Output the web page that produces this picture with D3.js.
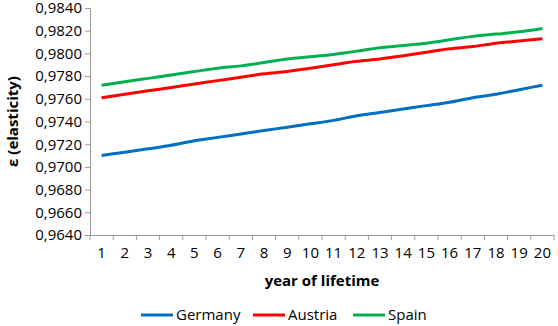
<!DOCTYPE html>
<html>
<head>
<meta charset="utf-8">
<script src="https://cdn.jsdelivr.net/npm/d3@7"></script>
<style>
  body { margin: 0; background: #fff; }
  text { font-family: "Open Sans", sans-serif; fill: #000; }
</style>
</head>
<body>
<div id="chart"></div>
<script>
const years = d3.range(1, 21);
const germany = [0.9710, 0.9713, 0.9716, 0.9719, 0.9723, 0.9726, 0.9729, 0.9732, 0.9735, 0.9738,
                 0.9741, 0.9745, 0.9748, 0.9751, 0.9754, 0.9757, 0.9761, 0.9764, 0.9768, 0.9772];
const austria = [0.9761, 0.9764, 0.9767, 0.9770, 0.9773, 0.9776, 0.9779, 0.9782, 0.9784, 0.9787,
                 0.9790, 0.9793, 0.9795, 0.9798, 0.9801, 0.9804, 0.9806, 0.9809, 0.9811, 0.9813];
const spain = [0.9772, 0.9775, 0.9778, 0.9781, 0.9784, 0.9787, 0.9789, 0.9792, 0.9795, 0.9797,
               0.9799, 0.9802, 0.9805, 0.9807, 0.9809, 0.9812, 0.9815, 0.9817, 0.9819, 0.9822];
const yTicks = d3.range(0.9640, 0.98401, 0.002);

const series = [
    {name: 'Germany', values: germany, color: '#0070C0'},
    {name: 'Austria', values: austria, color: '#FF0000'},
    {name: 'Spain', values: spain, color: '#00B050'}
];

const width = 558, height = 326;
const margin = {top: 8, right: 4, bottom: 91, left: 90};

const svg = d3.select('#chart')
    .append('svg')
    .attr('width', width)
    .attr('height', height);

const x = d3.scaleBand()
    .domain(years)
    .range([margin.left, width - margin.right]);

const y = d3.scaleLinear()
    .domain([0.9640, 0.9840])
    .range([height - margin.bottom, margin.top]);

const fmt = v => d3.format('.4f')(v).replace('.', ',');

// y axis
const yAxis = svg.append('g')
    .attr('transform', `translate(${margin.left},0)`)
    .call(d3.axisLeft(y).tickValues(yTicks).tickFormat(fmt).tickSize(5).tickPadding(3));
yAxis.selectAll('text').style('font-size', '15px');

// x axis, ticks on category boundaries
const xAxis = svg.append('g')
    .attr('transform', `translate(0,${height - margin.bottom})`)
    .call(d3.axisBottom(x).tickSize(0).tickPadding(12));
xAxis.selectAll('text').style('font-size', '15px');
xAxis.selectAll('.bound')
    .data(d3.range(0, 21))
    .enter()
    .append('line')
    .attr('x1', i => margin.left + i * x.step())
    .attr('x2', i => margin.left + i * x.step())
    .attr('y1', 0)
    .attr('y2', 5);

svg.selectAll('.domain, .tick line, g line').attr('stroke', '#9a9a9a');

// lines
const line = d3.line()
    .x((d, i) => x(years[i]) + x.bandwidth() / 2)
    .y(d => y(d))
    .curve(d3.curveMonotoneX);

svg.selectAll('.series')
    .data(series)
    .enter()
    .append('path')
    .attr('fill', 'none')
    .attr('stroke', d => d.color)
    .attr('stroke-width', 3)
    .attr('d', d => line(d.values));

// axis titles
svg.append('text')
    .attr('x', (margin.left + width - margin.right) / 2)
    .attr('y', 286)
    .attr('text-anchor', 'middle')
    .style('font-size', '15px')
    .style('font-weight', 'bold')
    .text('year of lifetime');

svg.append('text')
    .attr('transform', `translate(18,${(margin.top + height - margin.bottom) / 2}) rotate(-90)`)
    .attr('text-anchor', 'middle')
    .style('font-size', '15px')
    .style('font-weight', 'bold')
    .text('ε (elasticity)');

// legend
const legendX = [141, 253, 353];
const legend = svg.selectAll('.legend')
    .data(series)
    .enter()
    .append('g')
    .attr('transform', (d, i) => `translate(${legendX[i]},315)`);

legend.append('line')
    .attr('x1', 0).attr('x2', 32)
    .attr('y1', 0).attr('y2', 0)
    .attr('stroke', d => d.color)
    .attr('stroke-width', 3);

legend.append('text')
    .attr('x', 35)
    .attr('y', 5)
    .style('font-size', '15px')
    .text(d => d.name);
</script>
</body>
</html>
